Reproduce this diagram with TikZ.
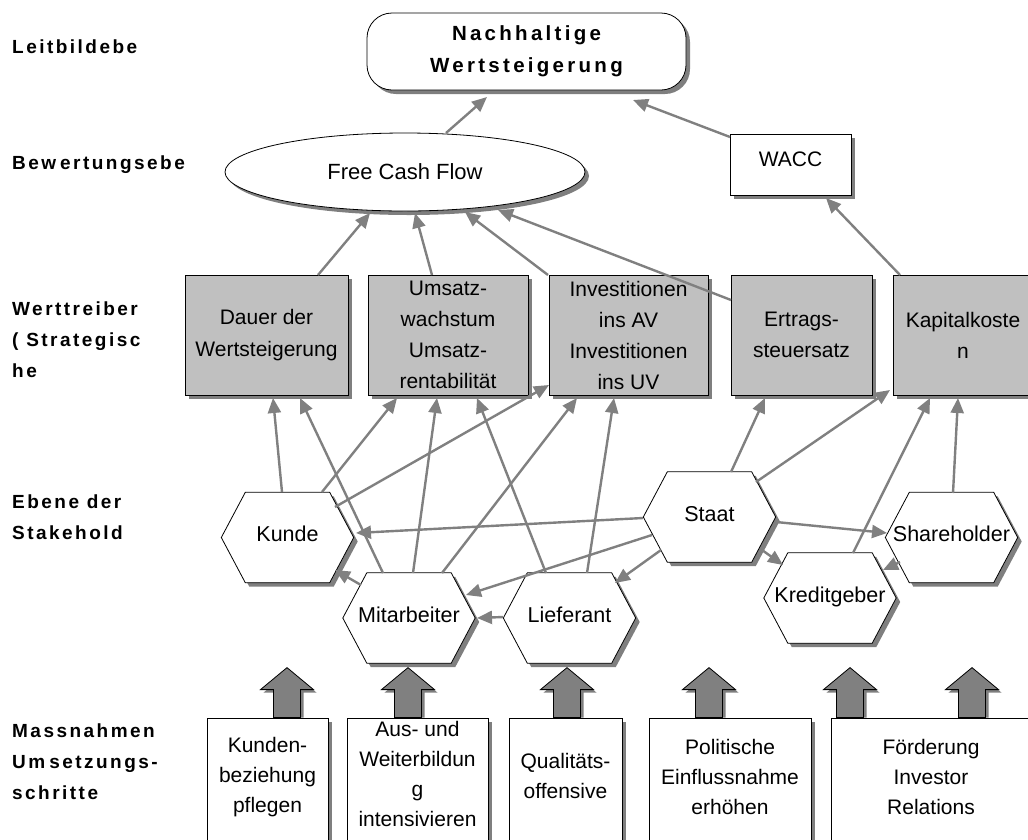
\documentclass[tikz,border=0pt]{standalone}
\usepackage{fontspec}
\setmainfont{Liberation Sans}
\newfontfamily\lblfont[LetterSpace=13]{Liberation Sans}
\newfontfamily\ttlfont[LetterSpace=16]{Liberation Sans}
\usetikzlibrary{arrows.meta,shadows,calc,shapes.geometric}
\definecolor{shgray}{HTML}{7F7F7F}
\definecolor{boxgray}{HTML}{C0C0C0}
\definecolor{arrgray}{HTML}{808080}
\pgfdeclarelayer{bg}
\pgfsetlayers{bg,main}
\tikzset{
  shad/.style={drop shadow={shadow xshift=4pt,shadow yshift=-4pt,fill=shgray,opacity=1}},
  lvl/.style={font=\lblfont\bfseries\fontsize{19}{31}\selectfont, anchor=west, align=left, inner sep=0pt},
  titlebox/.style={draw, fill=white, rounded corners=25pt, shad, minimum width=319pt, minimum height=77pt, align=center, inner sep=0pt, font=\ttlfont\bfseries\fontsize{20.5}{32}\selectfont, line width=0.8pt},
  gbox/.style={draw, fill=boxgray, shad, minimum height=120pt, align=center, inner sep=0pt, font=\fontsize{21}{31}\selectfont, line width=0.8pt},
  mbox/.style={draw, fill=white, shad, minimum height=130pt, inner sep=0pt, line width=0.8pt},
  mtext/.style={align=center, inner sep=0pt, font=\fontsize{21}{30}\selectfont},
  hex/.style={minimum width=132pt, minimum height=90pt, inner sep=0pt, font=\fontsize{21.5}{25}\selectfont, text height=15pt, text depth=7pt},
  hexp/.style={insert path={(#1.west) -- ($(#1.north west)+(24,0)$) -- ($(#1.north east)+(-24,0)$) -- (#1.east) -- ($(#1.south east)+(-24,0)$) -- ($(#1.south west)+(24,0)$) -- cycle}},
  hexs/.style={insert path={($(#1.west)+(4,4)$) -- ($(#1.north west)+(28,4)$) -- ($(#1.north east)+(-20,4)$) -- ($(#1.east)+(4,4)$) -- ($(#1.south east)+(-20,4)$) -- ($(#1.south west)+(28,4)$) -- cycle}},
  conn/.style={draw=arrgray, line width=2.4pt, -{Triangle[length=15pt,width=13pt]}},
  barrow/.pic={
    \fill[shgray] (-10.5,0) -- (-10.5,-25) -- (-23.5,-25) -- (3,-47) -- (29.5,-25) -- (16.5,-25) -- (16.5,0) -- cycle;
    \draw[fill=arrgray, line width=0.8pt] (-13.5,0) -- (-13.5,-28) -- (-26.5,-28) -- (0,-50) -- (26.5,-28) -- (13.5,-28) -- (13.5,0) -- cycle;
  }
}
\begin{document}
\begin{tikzpicture}[x=1pt,y=-1pt]
\useasboundingbox (0,0) rectangle (1028,839);

% level labels
\node[lvl] (l1) at (12,47) {Leitbildebe};
\node[lvl] (l2) at (12,165) {Bew\kern4pt ertungsebe};
\node[lvl] (l3) at (12,340) {Werttreiber\\( Strategisc\\he};
\node[lvl] (l4) at (12,517) {Ebene der\\Stakehold};
\node[lvl] (l5) at (12,762) {Massnahmen\\Um\kern4pt setzungs-\\schritte};

% top levels
\node[titlebox] (ttl) at (526.5,51.5) {Nachhaltige\\Wertsteigerung};
\node[ellipse, draw, fill=white, shad, minimum width=360pt, minimum height=78pt, inner sep=0pt, font=\fontsize{22}{26}\selectfont, line width=0.8pt] (fcf) at (405,172) {Free Cash Flow};
\node[draw, fill=white, shad, minimum width=121pt, minimum height=61pt, inner sep=0pt, font=\fontsize{21}{25}\selectfont, text height=15pt, text depth=11pt, line width=0.8pt] (wacc) at (790.5,164.5) {WACC};

% value drivers
\node[gbox, minimum width=163pt] (b1) at (266.5,335) {Dauer der\\[1pt]Wertsteigerung};
\node[gbox, minimum width=160pt] (b2) at (448,335) {Umsatz-\\wachstum\\Umsatz-\\rentabilität};
\node[gbox, minimum width=159pt] (b3) at (628.5,335) {Investitionen\\ins AV\\Investitionen\\ins UV};
\node[gbox, minimum width=141pt] (b4) at (801.5,335) {Ertrags-\\steuersatz};
\node[gbox, minimum width=140pt] (b5) at (963,335) {Kapitalkoste\\n};

% stakeholders
\node[hex] (kunde) at (287.5,537.5) {Kunde};
\node[hex] (mitarb) at (409,618) {Mitarbeiter};
\node[hex] (liefer) at (569.5,618) {Lieferant};
\node[hex] (staat) at (709.5,517) {Staat};
\node[hex] (share) at (951.5,537.5) {Shareholder};
\node[hex] (kredit) at (830,598) {Kreditgeber};
\begin{pgfonlayer}{bg}
\foreach \n in {kunde,mitarb,liefer,staat,share,kredit}{
  \fill[shgray, hexs=\n];
  \draw[fill=white, line width=0.8pt, hexp=\n];
}
\end{pgfonlayer}

% measures
\node[mbox, minimum width=121pt] (m1) at (267.5,783) {};
\node[mbox, minimum width=141pt] (m2) at (417.5,783) {};
\node[mbox, minimum width=113pt] (m3) at (565.5,783) {};
\node[mbox, minimum width=162pt] (m4) at (730,783) {};
\node[mbox, minimum width=200pt] (m5) at (931,783) {};
\node[mtext] (m1t) at (267.5,777) {Kunden-\\beziehung\\pflegen};
\node[mtext] (m2t) at (417.5,774) {Aus- und\\Weiterbildun\\g\\intensivieren};
\node[mtext] (m3t) at (565.5,776) {Qualitäts-\\offensive};
\node[mtext] (m4t) at (730,777) {Politische\\Einflussnahme\\erhöhen};
\node[mtext] (m5t) at (931,777) {Förderung\\Investor\\Relations};

\pic at ($(m1.north)+(19.5,0)$) {barrow};
\pic at ($(m2.north)+(-9.5,0)$) {barrow};
\pic at ($(m3.north)+(1.5,0)$) {barrow};
\pic at ($(m4.north)+(-21,0)$) {barrow};
\pic at ($(m5.north)+(-81,0)$) {barrow};
\pic at ($(m5.north)+(41,0)$) {barrow};

% connectors
\draw[conn] ($(fcf)+(41,-39)$) -- ($(ttl)+(-39.5,45.5)$);
\draw[conn] ($(wacc)+(-60.5,-27.5)$) -- ($(ttl)+(106.5,48.5)$);
\draw[conn] ($(b1)+(51.5,-60)$) -- ($(fcf)+(-35,41)$);
\draw[conn] ($(b2)+(-16,-60)$) -- ($(fcf)+(10,41)$);
\draw[conn] ($(b3)+(-80.5,-60)$) -- ($(fcf)+(60,40)$);
\draw[conn] ($(b4)+(-70.5,-35)$) -- ($(fcf)+(93,38)$);
\draw[conn] ($(b5)+(-63,-60)$) -- ($(wacc)+(35.5,33.5)$);

\draw[conn] ($(kunde)+(-5.5,-45.5)$) -- ($(b1)+(6.5,63)$);
\draw[conn] ($(mitarb)+(-26,-45)$) -- ($(b1)+(33.5,63)$);
\draw[conn] ($(kunde)+(34.5,-45.5)$) -- ($(b2)+(-51,63)$);
\draw[conn] ($(kunde)+(47.5,-30.5)$) -- ($(b3)+(-79.5,50)$);
\draw[conn] ($(mitarb)+(4,-45)$) -- ($(b2)+(-11,63)$);
\draw[conn] ($(liefer)+(-23.5,-45)$) -- ($(b2)+(29,63)$);
\draw[conn] ($(mitarb)+(33,-45)$) -- ($(b3)+(-51.5,63)$);
\draw[conn] ($(liefer)+(17.5,-45)$) -- ($(b3)+(-14.5,63)$);
\draw[conn] ($(staat)+(21.5,-45)$) -- ($(b4)+(-36.5,63)$);
\draw[conn] ($(staat)+(46.5,-35)$) -- ($(b5)+(-73,55)$);
\draw[conn] ($(kredit)+(23,-45)$) -- ($(b5)+(-33,63)$);
\draw[conn] ($(share)+(1.5,-44.5)$) -- ($(b5)+(-5,63)$);

\draw[conn] ($(staat)+(-66.5,1)$) -- ($(kunde)+(68.5,-4.5)$);
\draw[conn] ($(staat)+(-57.5,18)$) -- ($(mitarb)+(57,-23)$);
\draw[conn] ($(staat)+(-48.5,33)$) -- ($(liefer)+(45.5,-35)$);
\draw[conn] ($(mitarb)+(-48,-33)$) -- ($(kunde)+(47.5,32.5)$);
\draw[conn] ($(liefer)+(-66.5,-1)$) -- ($(mitarb)+(68,0)$);
\draw[conn] ($(staat)+(66.5,5)$) -- ($(share)+(-64.5,-4.5)$);
\draw[conn] ($(staat)+(52.5,33)$) -- ($(kredit)+(-47,-33)$);
\draw[conn] ($(share)+(-51.5,24.5)$) -- ($(kredit)+(53,-28)$);
\end{tikzpicture}
\end{document}
